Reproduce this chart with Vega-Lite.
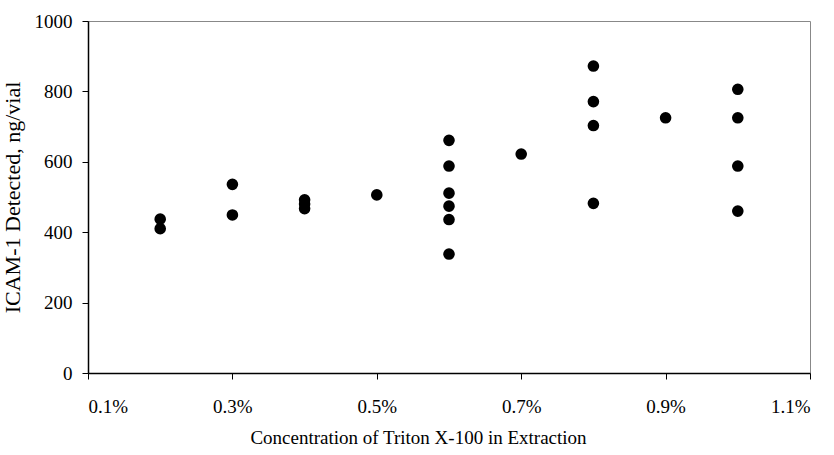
{
  "$schema": "https://vega.github.io/schema/vega-lite/v6.json",
  "width": 722,
  "height": 352,
  "autosize": "none",
  "padding": {"left": 88, "top": 21, "right": 24, "bottom": 82},
  "background": "white",
  "config": {
    "font": "Liberation Serif",
    "view": {"stroke": "#888888", "strokeWidth": 1}
  },
  "data": {
    "values": [
      {"conc": 0.002, "icam": 437},
      {"conc": 0.002, "icam": 410},
      {"conc": 0.003, "icam": 536},
      {"conc": 0.003, "icam": 449},
      {"conc": 0.004, "icam": 492},
      {"conc": 0.004, "icam": 480},
      {"conc": 0.004, "icam": 467},
      {"conc": 0.005, "icam": 506},
      {"conc": 0.006, "icam": 661},
      {"conc": 0.006, "icam": 588},
      {"conc": 0.006, "icam": 511},
      {"conc": 0.006, "icam": 474},
      {"conc": 0.006, "icam": 436},
      {"conc": 0.006, "icam": 338},
      {"conc": 0.007, "icam": 622},
      {"conc": 0.008, "icam": 872},
      {"conc": 0.008, "icam": 771},
      {"conc": 0.008, "icam": 703},
      {"conc": 0.008, "icam": 482},
      {"conc": 0.009, "icam": 725},
      {"conc": 0.010, "icam": 806},
      {"conc": 0.010, "icam": 725},
      {"conc": 0.010, "icam": 588},
      {"conc": 0.010, "icam": 460}
    ]
  },
  "mark": {"type": "point", "filled": true, "shape": "circle", "color": "black", "size": 135, "opacity": 1},
  "encoding": {
    "x": {
      "field": "conc",
      "type": "quantitative",
      "scale": {"domain": [0.001, 0.011], "nice": false, "zero": false},
      "axis": {
        "values": [0.001, 0.003, 0.005, 0.007, 0.009, 0.011],
        "format": ".1%",
        "grid": false,
        "domainColor": "black",
        "domainWidth": 1.5,
        "tickColor": "black",
        "tickSize": 6,
        "labelFontSize": 19,
        "labelColor": "black",
        "labelPadding": 18,
        "title": "Concentration of Triton X-100 in Extraction",
        "titleFontSize": 19,
        "titleFontWeight": "normal",
        "titleColor": "black",
        "titlePadding": 12,
        "titleX": 330,
        "titleAlign": "center"
      }
    },
    "y": {
      "field": "icam",
      "type": "quantitative",
      "scale": {"domain": [0, 1000], "nice": false},
      "axis": {
        "values": [0, 200, 400, 600, 800, 1000],
        "format": "d",
        "grid": false,
        "domainColor": "black",
        "domainWidth": 1.5,
        "tickColor": "black",
        "tickSize": 6,
        "labelFontSize": 19,
        "labelColor": "black",
        "labelPadding": 10,
        "title": "ICAM-1 Detected, ng/vial",
        "titleFontSize": 22,
        "titleFontWeight": "normal",
        "titleColor": "black",
        "titlePadding": 10
      }
    }
  }
}
